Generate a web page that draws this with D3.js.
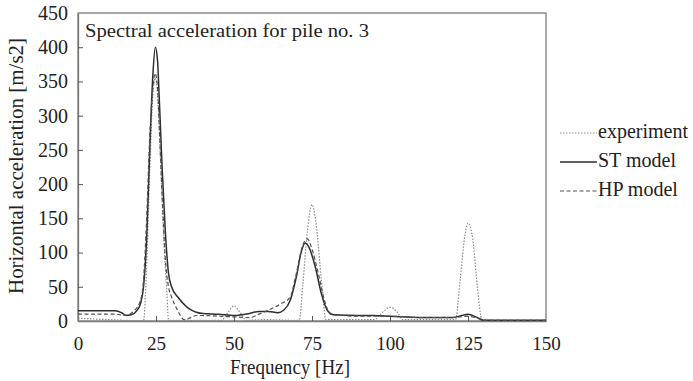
<!DOCTYPE html>
<html>
<head>
<meta charset="utf-8">
<script src="https://cdn.jsdelivr.net/npm/d3@7"></script>
<style>
  body { margin: 0; background: #fff; }
  text { font-family: "Liberation Serif", "Times New Roman", serif; fill: #222; }
</style>
</head>
<body>
<div id="chart"></div>
<script>
// Tick values
var xTicks = [0, 25, 50, 75, 100, 125, 150];
var yTicks = [0, 50, 100, 150, 200, 250, 300, 350, 400, 450];

// Series: [frequency, acceleration]
var experiment = [
  [0, 4], [5, 3], [10, 2], [15, 1], [20, 0.5], [21, 0.5], [22, 80], [23, 220], [24, 330],
  [24.8, 355], [25.5, 330], [26.5, 230], [27.5, 120], [28.5, 40], [29, 2], [30, 1],
  [40, 1], [46, 1], [48, 12], [50, 22], [52, 12], [54, 1], [60, 2], [70, 1], [71, 2],
  [72, 50], [73.5, 130], [75, 170], [76.5, 135], [78, 60], [79.5, 2], [85, 2], [95, 2],
  [97, 10], [100, 20], [102.5, 12], [104, 2], [115, 2], [121, 2], [122.5, 60], [124, 125],
  [125, 143], [126.5, 120], [128, 50], [129.5, 2], [135, 1], [150, 1]
];
var stModel = [
  [0, 15], [6, 15], [12, 15], [14, 12], [15.5, 8], [17, 9], [19, 16], [20, 25], [21, 50],
  [22, 120], [23, 250], [24, 360], [24.8, 400], [25.5, 380], [26, 330], [27, 220], [28, 130],
  [29, 70], [30, 50], [32, 35], [35, 20], [40, 11], [45, 10], [50, 8], [55, 11], [58, 14],
  [61, 14], [64, 12], [66, 16], [68, 30], [70, 65], [71.5, 100], [72.8, 114], [74, 108],
  [76, 80], [78, 40], [80, 15], [82, 9], [90, 8], [95, 8], [100, 7], [110, 5], [120, 5],
  [125, 10], [128, 5], [130, 1], [150, 1]
];
var hpModel = [
  [0, 10], [6, 10], [12, 10], [15, 8], [18, 15], [20, 30], [21, 60], [22, 150], [23, 270],
  [24, 340], [24.7, 362], [25.5, 340], [26, 290], [27, 180], [28, 90], [29, 50], [30, 35],
  [32, 15], [34, 2], [35, 3], [38, 8], [40, 8], [45, 7], [50, 6], [55, 5], [58, 10],
  [62, 18], [65, 25], [68, 35], [70, 70], [72, 110], [73.5, 120], [75, 105], [77, 70],
  [79, 30], [81, 10], [85, 8], [90, 7], [100, 7], [110, 5], [120, 5], [125, 7], [128, 4],
  [130, 1], [150, 1]
];
var seriesNames = ["experiment", "ST model", "HP model"];

var width = 693, height = 381;
var margin = {top: 13, right: 147, bottom: 60, left: 78};
var w = width - margin.left - margin.right;
var h = height - margin.top - margin.bottom;

var svg = d3.select("#chart").append("svg")
    .attr("width", width)
    .attr("height", height);

var g = svg.append("g")
    .attr("transform", "translate(" + margin.left + "," + margin.top + ")");

var x = d3.scaleLinear().domain([0, 150]).range([0, w]);
var y = d3.scaleLinear().domain([0, 450]).range([h, 0]);

// frame
g.append("rect")
    .attr("width", w).attr("height", h)
    .attr("fill", "none")
    .attr("stroke", "#7a7a7a")
    .attr("stroke-width", 1.3);

// axes with inward ticks
var xAxis = g.append("g")
    .attr("transform", "translate(0," + h + ")")
    .call(d3.axisBottom(x).tickValues(xTicks).tickSizeInner(-5).tickSizeOuter(0).tickPadding(16));
var yAxis = g.append("g")
    .call(d3.axisLeft(y).tickValues(yTicks).tickSizeInner(-5).tickSizeOuter(0).tickPadding(10));

[xAxis, yAxis].forEach(function(a) {
  a.select(".domain").attr("stroke", "#7a7a7a").attr("stroke-width", 1.3);
  a.selectAll(".tick line").attr("stroke", "#555");
  a.selectAll(".tick text")
    .attr("fill", "#222")
    .style("font-family", "'Liberation Serif', serif");
});
xAxis.selectAll(".tick text").style("font-size", "19px");
yAxis.selectAll(".tick text").style("font-size", "20px");
xAxis.selectAll(".tick line").filter(function(d) { return d === 0 || d === 150; }).remove();
yAxis.selectAll(".tick line").filter(function(d) { return d === 0 || d === 450; }).remove();

var line = d3.line()
    .x(function(d) { return x(d[0]); })
    .y(function(d) { return y(d[1]); })
    .curve(d3.curveMonotoneX);

var styles = [
  {data: experiment, stroke: "#8a8a8a", width: 1.2, dash: "1.5,1.5"},
  {data: stModel, stroke: "#2e2e2e", width: 1.5, dash: null},
  {data: hpModel, stroke: "#505050", width: 1.2, dash: "4,2.5"}
];

styles.forEach(function(s) {
  g.append("path")
    .datum(s.data)
    .attr("d", line)
    .attr("fill", "none")
    .attr("stroke", s.stroke)
    .attr("stroke-width", s.width)
    .attr("stroke-dasharray", s.dash);
});

// title inside plot
g.append("text")
    .attr("x", 7).attr("y", 24)
    .attr("textLength", 284).attr("lengthAdjust", "spacingAndGlyphs")
    .style("font-size", "19px")
    .text("Spectral acceleration  for pile no. 3");

// axis titles
svg.append("text")
    .attr("x", 290).attr("y", 374)
    .attr("text-anchor", "middle")
    .attr("textLength", 120).attr("lengthAdjust", "spacingAndGlyphs")
    .style("font-size", "20px")
    .text("Frequency  [Hz]");

svg.append("text")
    .attr("transform", "translate(23,166) rotate(-90)")
    .attr("text-anchor", "middle")
    .attr("textLength", 256).attr("lengthAdjust", "spacingAndGlyphs")
    .style("font-size", "20px")
    .text("Horizontal acceleration  [m/s2]");

// legend
var legend = svg.append("g").attr("transform", "translate(560,133)");
seriesNames.forEach(function(name, i) {
  var s = styles[i];
  var row = legend.append("g").attr("transform", "translate(0," + (i * 29) + ")");
  row.append("line")
    .attr("x1", 0).attr("x2", 37)
    .attr("stroke", s.stroke)
    .attr("stroke-width", s.width)
    .attr("stroke-dasharray", s.dash);
  row.append("text")
    .attr("x", 38).attr("y", 5)
    .style("font-size", "20px")
    .text(name);
});
</script>
</body>
</html>
